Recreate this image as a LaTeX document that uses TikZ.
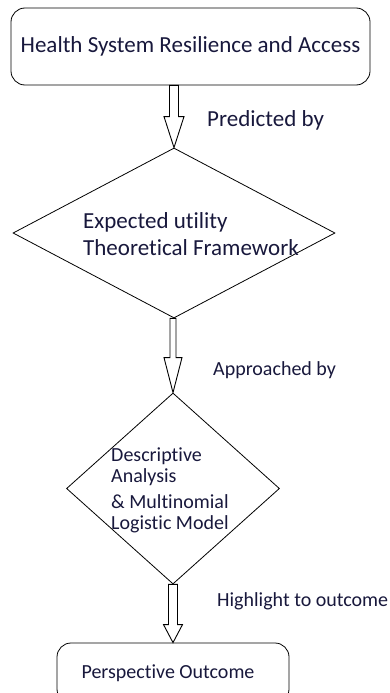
\documentclass[tikz,border=0pt]{standalone}
\usepackage{fontspec}
\setmainfont{Carlito}[Ligatures={NoCommon}]
\usepackage{tikz}
\usetikzlibrary{calc,positioning,shapes.geometric}
\definecolor{inkblue}{RGB}{24,24,60}

% hollow block arrow: from, to, shaft half width, head half width, head length
\newcommand{\blockarrow}[5]{%
	\draw[arrowline] ($(#1)+(-#3,0)$) -- ($(#2)+(-#3,-#5)$) -- ($(#2)+(-#4,-#5)$) -- (#2)
		-- ($(#2)+(#4,-#5)$) -- ($(#2)+(#3,-#5)$) -- ($(#1)+(#3,0)$) -- cycle;}

\begin{document}
\begin{tikzpicture}[x=1pt,y=-1pt,
	txt/.style={text=inkblue,font=\fontsize{23}{27}\selectfont,inner sep=0pt},
	smalltxt/.style={txt,font=\fontsize{20}{21}\selectfont},
	endbox/.style={draw,line width=0.8pt,rounded corners=14pt,inner sep=0pt},
	decision/.style={draw,diamond,line width=0.8pt,inner sep=0pt},
	arrowline/.style={draw,line width=0.9pt,line join=miter}]
	\useasboundingbox (0,0) rectangle (389,693);
	\clip (0,0) rectangle (389,693);
	\node[endbox,txt,minimum width=359pt,minimum height=77pt] (health) at (190.5,46.5) {Health System Resilience and Access};
	\node[decision,minimum width=322pt,minimum height=170pt,aspect=1.9] (theory) at (174,233) {};
	\node[txt,anchor=west,align=left] (theorytext) at (83,234) {Expected utility\\Theoretical Framework};
	\node[decision,minimum width=213pt,minimum height=191pt,aspect=1.1] (method) at (173,488.5) {};
	\node[smalltxt,anchor=west,align=left] (methodtext) at (111,490) {Descriptive\\Analysis\\[5pt]\& Multinomial\\Logistic Model};
	\node[endbox,smalltxt,minimum width=232pt,minimum height=60pt] (outcome) at (173,673) {\hspace*{-10pt}Perspective Outcome};
	\node[txt,anchor=west] (predicted) at (207,120) {Predicted by};
	\node[smalltxt,anchor=west] (approached) at (213,370) {Approached by};
	\node[smalltxt,anchor=west] (highlight) at (217,601) {Highlight to outcome};
	\blockarrow{theory.north |- health.south}{theory.north}{4.5}{10}{31}
	\blockarrow{method.north |- theory.south}{method.north}{3}{9}{35}
	\blockarrow{method.south}{method.south |- outcome.north}{4.5}{9.5}{18}
\end{tikzpicture}
\end{document}
